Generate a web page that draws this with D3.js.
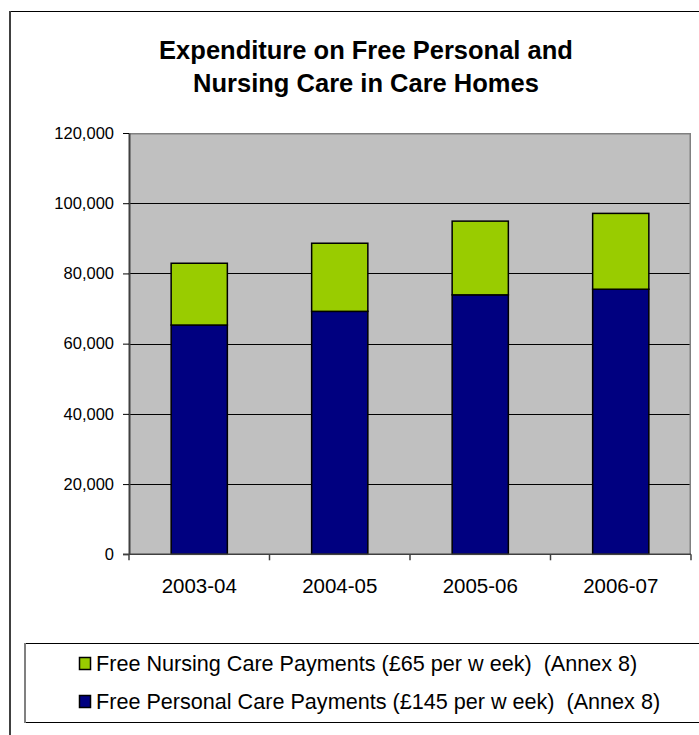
<!DOCTYPE html>
<html><head><meta charset="utf-8">
<script src="https://cdn.jsdelivr.net/npm/d3@7"></script>
<style>body{margin:0;background:#fff}svg{display:block}text{font-family:Arial,"Liberation Sans",sans-serif;white-space:pre}</style>
</head><body>
<svg id="c" width="699" height="735"></svg>
<script>
const categories = ["2003-04","2004-05","2005-06","2006-07"];
const personalCare = [65300, 69200, 73900, 75500];
const nursingCare = [17600, 19400, 21000, 21600];
const yTicks = [0,20000,40000,60000,80000,100000,120000];
const titleLines = ["Expenditure on Free Personal and","Nursing Care in Care Homes"];
const seriesNames = ["Free Nursing Care Payments (\u00A365 per w eek)  (Annex 8)","Free Personal Care Payments (\u00A3145 per w eek)  (Annex 8)"];
const seriesColors = ["#99cc00","#000080"];

const svg = d3.select("#c");
// outer frame
svg.append("rect").attr("x",10.5).attr("y",11.5).attr("width",720).attr("height",760)
  .attr("fill","#fff").attr("stroke","#000").attr("stroke-width",1);
svg.append("line").attr("x1",10).attr("x2",10).attr("y1",11).attr("y2",735).attr("stroke","#404040").attr("stroke-width",2);

// title
svg.append("text").attr("x",366).attr("text-anchor","middle").attr("font-weight","bold").attr("font-size",25.5)
  .selectAll("tspan").data(titleLines).join("tspan").attr("x",366).attr("y",(d,i)=>59+i*33).text(d=>d);

const L=129, R=691, T=133, B=554.3;
const x = d3.scaleBand().domain(categories).range([L,R]).paddingInner(0.6).paddingOuter(0.3);
const xb = d3.scaleBand().domain(categories).range([L,R]);
const y = d3.scaleLinear().domain([0,120000]).range([B,T]);

svg.append("rect").attr("x",L).attr("y",T).attr("width",R-L).attr("height",B-T).attr("fill","#c0c0c0");
// gridlines
svg.append("g").selectAll("line").data(yTicks.filter(d=>d>0 && d<120000)).join("line")
  .attr("x1",L).attr("x2",R).attr("y1",d=>Math.round(y(d))+0.5).attr("y2",d=>Math.round(y(d))+0.5)
  .attr("stroke","#000").attr("stroke-width",1);
// plot border top/right
svg.append("path").attr("d",`M${L},${T+0.75}H${R-0.75}V${B}`).attr("fill","none").attr("stroke","#808080").attr("stroke-width",1.5);

// bars
const stack = categories.map((c,i)=>({c, p:personalCare[i], n:nursingCare[i]}));
const g = svg.append("g");
g.selectAll(".bp").data(stack).join("rect").attr("class","bp")
  .attr("x",d=>x(d.c)).attr("width",x.bandwidth()).attr("y",d=>y(d.p)).attr("height",d=>B-y(d.p))
  .attr("fill",seriesColors[1]).attr("stroke","#000").attr("stroke-width",1.5);
g.selectAll(".bn").data(stack).join("rect").attr("class","bn")
  .attr("x",d=>x(d.c)).attr("width",x.bandwidth()).attr("y",d=>y(d.p+d.n)).attr("height",d=>y(d.p)-y(d.p+d.n))
  .attr("fill",seriesColors[0]).attr("stroke","#000").attr("stroke-width",1.5);

// y axis
const ya = svg.append("g").attr("transform",`translate(${L},0)`)
  .call(d3.axisLeft(y).tickValues(yTicks).tickFormat(d3.format(",")).tickSize(6).tickPadding(9).tickSizeOuter(0));
ya.select(".domain").attr("stroke","#404040").attr("stroke-width",2);
ya.selectAll(".tick line").attr("stroke","#000");
ya.selectAll("text").attr("font-size",16.5).attr("font-family","Arial, 'Liberation Sans', sans-serif").attr("fill","#000");

// x axis
const xa = svg.append("g").attr("transform",`translate(0,${B})`);
xa.append("line").attr("x1",L-6).attr("x2",R).attr("y1",0).attr("y2",0).attr("stroke","#404040").attr("stroke-width",1.5);
xa.selectAll(".tk").data(categories.concat(["end"])).join("line").attr("class","tk")
  .attr("x1",(d,i)=> i<categories.length ? xb(d) : R).attr("x2",(d,i)=> i<categories.length ? xb(d) : R)
  .attr("y1",0).attr("y2",6).attr("stroke","#404040").attr("stroke-width",1.5);
xa.selectAll(".lb").data(categories).join("text").attr("class","lb")
  .attr("x",d=>xb(d)+xb.bandwidth()/2).attr("y",39).attr("text-anchor","middle").attr("font-size",20.5).text(d=>d);

// legend
const lg = svg.append("g");
lg.append("rect").attr("x",25).attr("y",643.5).attr("width",700).attr("height",79).attr("fill","#fff").attr("stroke","#000").attr("stroke-width",1);
lg.append("line").attr("x1",25).attr("x2",25).attr("y1",643).attr("y2",723).attr("stroke","#808080").attr("stroke-width",2);
const li = lg.selectAll(".li").data(seriesNames).join("g").attr("class","li").attr("transform",(d,i)=>`translate(0,${i*38})`);
li.append("rect").attr("x",79.5).attr("y",657.5).attr("width",11).attr("height",12).attr("fill",(d,i)=>seriesColors[i]).attr("stroke","#000").attr("stroke-width",1.5);
li.append("text").attr("x",96).attr("y",671).attr("font-size",21.6).text(d=>d);
</script>
</body></html>
